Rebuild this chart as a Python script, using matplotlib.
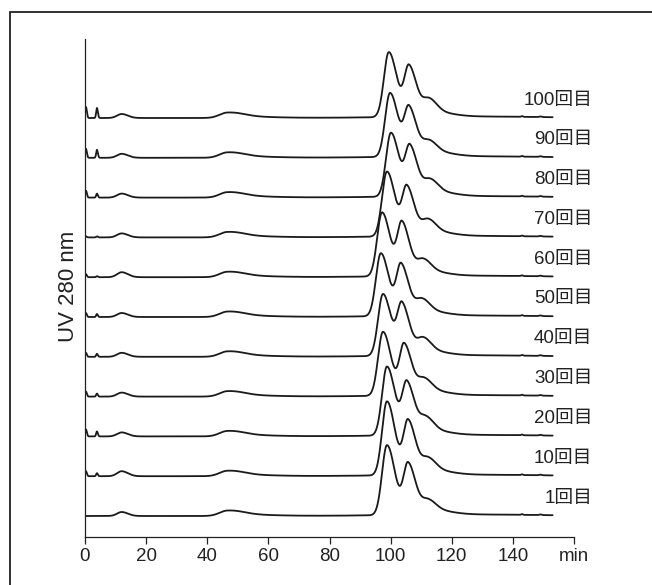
import numpy as np
import matplotlib
matplotlib.use("Agg")
import matplotlib.pyplot as plt
from matplotlib.patches import Rectangle

plt.rcParams['font.family'] = ['Liberation Sans', 'Noto Sans CJK JP', 'DejaVu Sans']

# Injection number of each chromatogram (bottom to top)
runs = [1, 10, 20, 30, 40, 50, 60, 70, 80, 90, 100]
run_labels = [f"{r}回目" for r in runs]

# Retention times (min) and peak heights of the main elution peaks
main_rt = [98.8, 98.8, 98.8, 97.5, 97.5, 96.8, 97.2, 98.8, 100.1, 99.8, 99.4]
main_h = [70, 74, 69, 64, 62, 63, 64, 65, 64, 64, 65]
second_rt = [105.7, 105.7, 105.3, 104.4, 103.7, 103.4, 103.7, 105.3, 106.3, 106.0, 106.0]
second_h = [50, 53, 51, 50, 50, 50, 52, 48, 48, 47, 49]
shoulder_rt = [112.2, 112.2, 111.5, 110.9, 110.6, 110.2, 110.6, 112.2, 112.9, 112.5, 112.5]
shoulder_h = [10, 12, 13, 12, 13, 12, 12, 12, 12, 11, 13]

# Early injection spikes and small low-molecular humps
spike1_h = [0, 5, 7, 5, 4, 4, 3, 1, 7, 9, 11]
spike2_h = [0, 3, 5, 3, 3, 3, 1, 1, 4, 8, 10]
hump12_h = [4, 5, 4, 4, 4, 4, 5, 4, 4, 4, 4]
hump46_h = [5, 5, 5, 5, 5, 5, 5, 5, 5, 5, 5]

t = np.linspace(0, 153, 3000)


def bigauss(x, rt, h, sl, sr):
    s = np.where(x < rt, sl, sr)
    return h * np.exp(-0.5 * ((x - rt) / s) ** 2)


def trace(i):
    y = np.zeros_like(t)
    y += bigauss(t, 0.3, spike1_h[i], 0.25, 0.3)
    y += bigauss(t, 3.9, spike2_h[i], 0.25, 0.3)
    y += bigauss(t, 12.0, hump12_h[i], 1.5, 2.0)
    y += bigauss(t, 46.5, hump46_h[i], 2.5, 5.0)
    y += bigauss(t, 52.0, 1.2, 4.0, 10.0)
    y += bigauss(t, main_rt[i], main_h[i], 1.6, 2.6)
    y += bigauss(t, second_rt[i], second_h[i], 1.5, 2.4)
    y += bigauss(t, shoulder_rt[i], shoulder_h[i], 2.0, 2.5)
    y += bigauss(t, shoulder_rt[i] + 1.0, 5.0, 4.0, 6.0)
    y += bigauss(t, 125.0, 1.5, 25.0, 25.0)
    y += bigauss(t, 143.0, 0.7, 0.3, 0.3)
    y += bigauss(t, 149.0, 0.6, 0.4, 0.4)
    return y


base0 = 21.0
step = 39.8

fig = plt.figure(figsize=(6.52, 5.85), dpi=100)
ax = fig.add_axes([85 / 652, 1 - 537 / 585, 489 / 652, 498 / 585])

for i in range(len(runs)):
    off = base0 + step * i
    ax.plot(t, trace(i) + off, color='#1a1a1a', lw=1.3, solid_capstyle='round')
    ax.text(166.0, off + 18, run_labels[i], ha='right', va='center',
            fontsize=13.5, color='#222222', clip_on=False)

ax.set_xlim(0, 160)
ax.set_ylim(0, 498)
xt = [0, 20, 40, 60, 80, 100, 120, 140, 160]
ax.set_xticks(xt)
ax.set_xticklabels([str(v) for v in xt[:-1]] + ['min'], fontsize=13.5, color='#222222')
ax.set_yticks([])
ax.tick_params(axis='x', direction='out', length=5, width=0.9, pad=3, colors='#222222')
for s in ['top', 'right']:
    ax.spines[s].set_visible(False)
for s in ['left', 'bottom']:
    ax.spines[s].set_linewidth(0.9)
    ax.spines[s].set_color('#222222')

fig.text(68 / 652, 1 - 286 / 585, 'UV 280 nm', rotation=90, ha='center', va='center',
         fontsize=16, color='#222222')

fig.patches.append(Rectangle((10 / 652, -0.05), 1.1, 1 - 12 / 585 + 0.05,
                             transform=fig.transFigure, fill=False,
                             edgecolor='#222222', lw=1.3))

fig.savefig('out.png', dpi=100)
